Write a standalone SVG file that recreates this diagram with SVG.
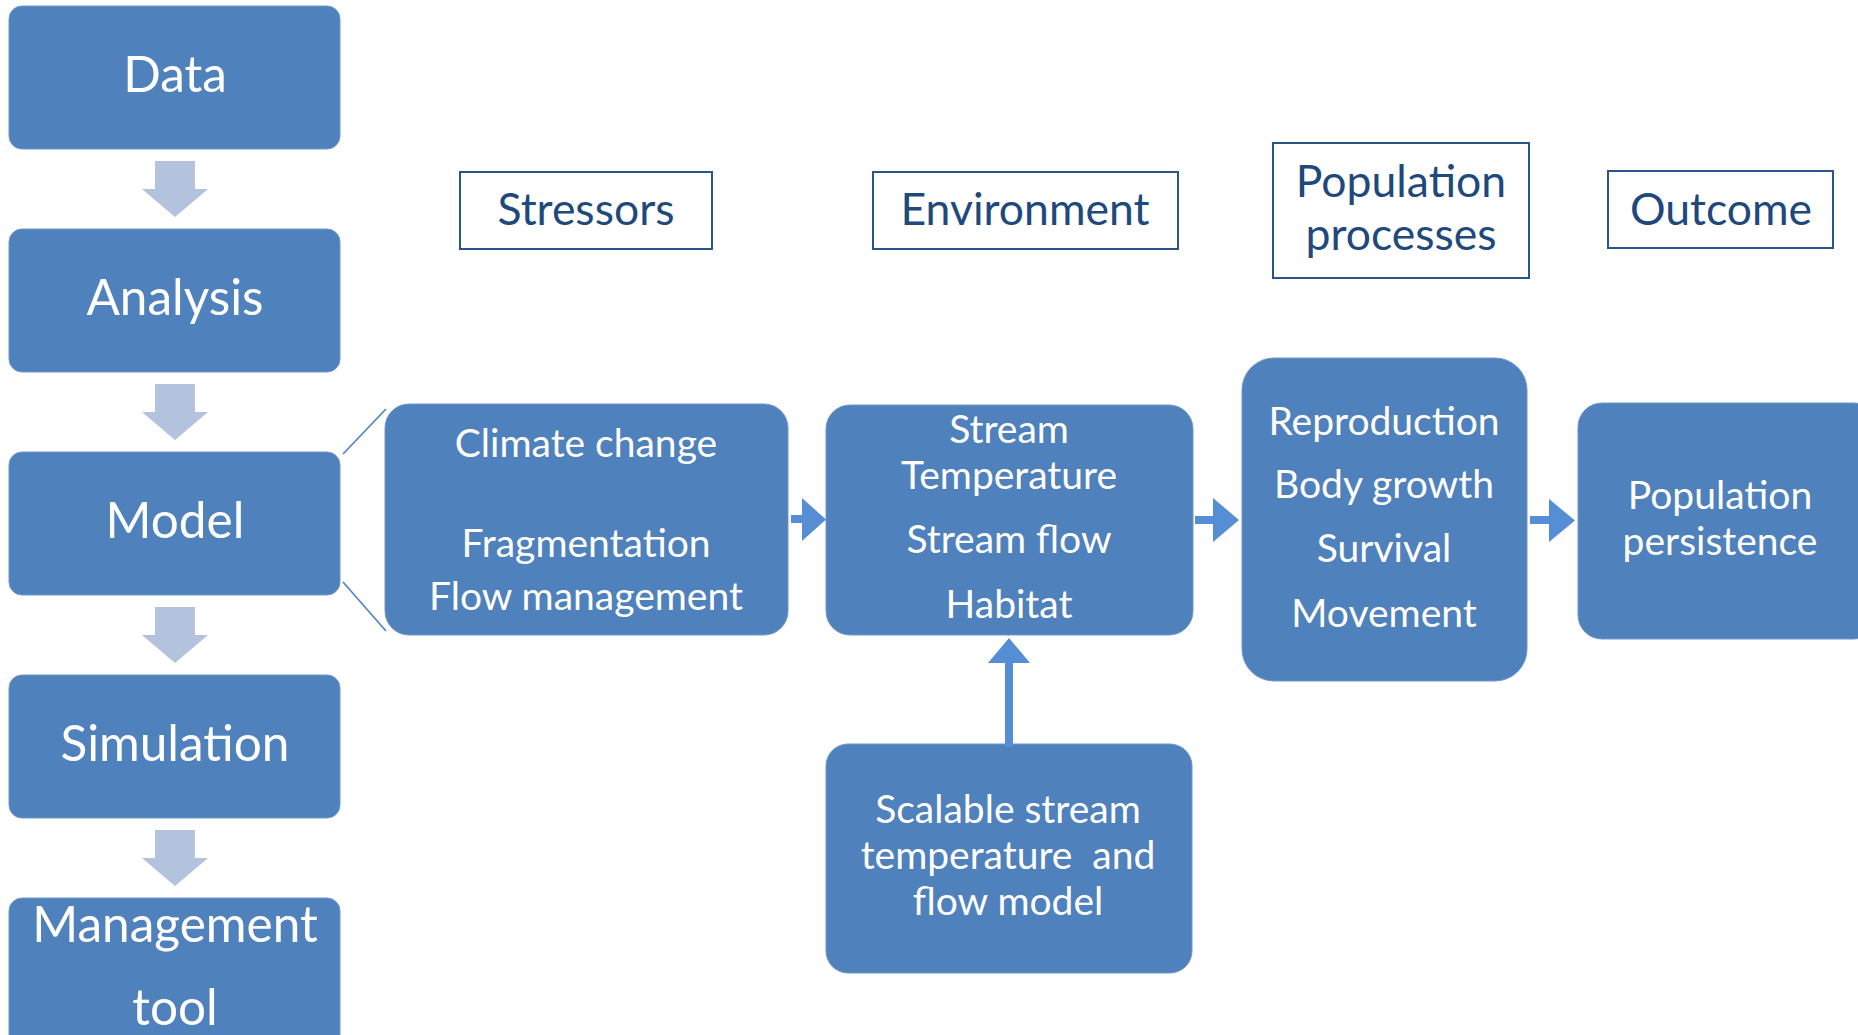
<svg xmlns="http://www.w3.org/2000/svg" width="1858" height="1035" viewBox="0 0 1858 1035">
<style>
.box{fill:#4F81BD;stroke:#6F97C9;stroke-width:1}
.hdr{fill:#FFFFFF;stroke:#2A548A;stroke-width:2}
.t{font-family:Lato,"Open Sans","Liberation Sans",sans-serif;fill:#FFFFFF;text-anchor:middle}
.big{font-size:49.5px}
.mid{font-size:39px}
.ht{font-family:Lato,"Open Sans","Liberation Sans",sans-serif;fill:#1F497D;text-anchor:middle;font-size:44.5px}
.dn{fill:#B3C3DE}
.ar{fill:#558ED5}
.ln{stroke:#4F81BD;stroke-width:1.6;fill:none}
</style>
<rect width="1858" height="1035" fill="#FFFFFF"/>

<g id="data"><rect class="box" x="9" y="6" width="331" height="143" rx="13"/><text class="t big" x="175" y="92">Data</text></g>
<g id="analysis"><rect class="box" x="9" y="229" width="331" height="143" rx="13"/><text class="t big" x="175" y="315">Analysis</text></g>
<g id="model"><rect class="box" x="9" y="452" width="331" height="143" rx="13"/><text class="t big" x="175" y="538">Model</text></g>
<g id="simulation"><rect class="box" x="9" y="675" width="331" height="143" rx="13"/><text class="t big" x="175" y="761">Simulation</text></g>
<g id="management"><rect class="box" x="9" y="898" width="331" height="160" rx="13"/><text class="t big" x="175" y="942">Management</text><text class="t big" x="175" y="1025">tool</text></g>

<g id="h-stressors"><rect class="hdr" x="460" y="172" width="252" height="77"/><text class="ht" x="586" y="225">Stressors</text></g>
<g id="h-environment"><rect class="hdr" x="873" y="172" width="305" height="77"/><text class="ht" x="1025" y="225">Environment</text></g>
<g id="h-population"><rect class="hdr" x="1273" y="143" width="256" height="135"/><text class="ht" x="1401" y="197">Population</text><text class="ht" x="1401" y="250">processes</text></g>
<g id="h-outcome"><rect class="hdr" x="1608" y="171" width="225" height="77"/><text class="ht" x="1721" y="225">Outcome</text></g>

<g id="stressors"><rect class="box" x="385" y="404" width="403" height="231" rx="24"/>
<text class="t mid" x="586" y="457">Climate change</text>
<text class="t mid" x="586" y="557">Fragmentation</text>
<text class="t mid" x="586" y="610">Flow management</text></g>

<g id="environment"><rect class="box" x="826" y="405" width="367" height="230" rx="24"/>
<text class="t mid" x="1009" y="443">Stream</text>
<text class="t mid" x="1009" y="489">Temperature</text>
<text class="t mid" x="1009" y="553">Stream flow</text>
<text class="t mid" x="1009" y="618">Habitat</text></g>

<g id="population"><rect class="box" x="1242" y="358" width="285" height="323" rx="32"/>
<text class="t mid" x="1384" y="435">Reproduction</text>
<text class="t mid" x="1384" y="498">Body growth</text>
<text class="t mid" x="1384" y="562">Survival</text>
<text class="t mid" x="1384" y="627">Movement</text></g>

<g id="outcome"><rect class="box" x="1578" y="403" width="300" height="236" rx="24"/>
<text class="t mid" x="1720" y="509">Population</text>
<text class="t mid" x="1720" y="555">persistence</text></g>

<g id="scalable"><rect class="box" x="826" y="744" width="366" height="229" rx="22"/>
<text class="t mid" x="1008" y="823">Scalable stream</text>
<text class="t mid" x="1008" y="869" xml:space="preserve">temperature  and</text>
<text class="t mid" x="1008" y="915">flow model</text></g>

<g id="connectors">
<path class="dn" d="M155 161H195V189H208L175 217L142 189H155Z"/>
<path class="dn" d="M155 384H195V412H208L175 440L142 412H155Z"/>
<path class="dn" d="M155 607H195V635H208L175 663L142 635H155Z"/>
<path class="dn" d="M155 830H195V858H208L175 886L142 858H155Z"/>
<line class="ln" x1="343" y1="454" x2="386" y2="409"/>
<line class="ln" x1="343" y1="582" x2="386" y2="631"/>
<path class="ar" d="M791 515H802V498L826 519.5L802 541V523H791Z"/>
<path class="ar" d="M1195 516H1213V498L1239 520L1213 542V524H1195Z"/>
<path class="ar" d="M1530 516H1549V499L1575 520.5L1549 542V524H1530Z"/>
<path class="ar" d="M1005 747V663H988L1009 638L1030 663H1013V747Z"/>
</g>
</svg>
